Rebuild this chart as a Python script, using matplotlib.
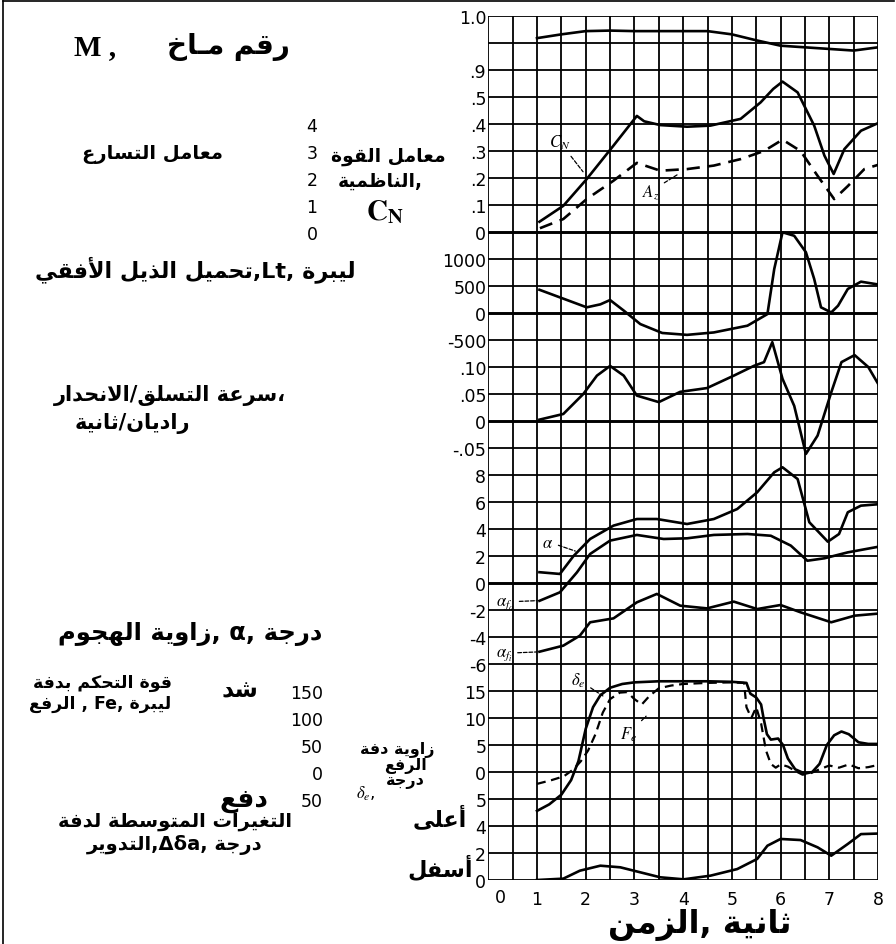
import re
import numpy as np
import matplotlib
matplotlib.use('Agg')
import matplotlib.pyplot as plt
from matplotlib.lines import Line2D

# ---------------- data ----------------
t_mach = [1.0, 1.5, 2.0, 2.5, 3.0, 3.5, 4.0, 4.5, 5.0, 5.5, 6.0, 6.5, 7.0, 7.5, 8.0]
mach = [0.959, 0.966, 0.972, 0.973, 0.972, 0.972, 0.972, 0.972, 0.966, 0.955, 0.945, 0.942, 0.939, 0.936, 0.942]

t_cn = [1.05, 1.54, 2.02, 2.57, 3.05, 3.2, 3.53, 4.08, 4.56, 5.18, 5.59, 5.85, 6.04, 6.35, 6.69, 6.9, 7.09, 7.31, 7.65, 8.06]
cn = [0.038, 0.097, 0.196, 0.32, 0.43, 0.41, 0.396, 0.39, 0.394, 0.419, 0.48, 0.53, 0.557, 0.517, 0.394, 0.283, 0.215, 0.307, 0.375, 0.408]

t_az = [1.06, 1.54, 2.02, 2.57, 3.05, 3.53, 4.08, 4.63, 5.18, 5.66, 6.04, 6.41, 6.76, 7.1, 7.38, 7.72, 8.06]
az = [0.14, 0.48, 1.22, 1.9, 2.56, 2.27, 2.33, 2.46, 2.7, 3.0, 3.42, 3.0, 2.08, 1.22, 1.7, 2.33, 2.52]

t_lt = [1.05, 2.02, 2.3, 2.5, 2.78, 3.12, 3.57, 4.08, 4.63, 5.32, 5.73, 5.87, 6.04, 6.28, 6.52, 6.69, 6.83, 7.04, 7.18, 7.38, 7.65, 8.06]
lt = [430, 105, 160, 240, 45, -205, -370, -405, -360, -235, -20, 815, 1495, 1430, 1125, 630, 105, 10, 135, 445, 580, 520]

t_q = [1.05, 1.54, 1.95, 2.23, 2.5, 2.78, 3.05, 3.5, 3.94, 4.49, 5.04, 5.45, 5.66, 5.83, 6.04, 6.28, 6.52, 6.76, 7.04, 7.25, 7.52, 7.8, 8.06]
q = [0.0025, 0.013, 0.05, 0.084, 0.102, 0.084, 0.047, 0.035, 0.054, 0.061, 0.084, 0.102, 0.109, 0.146, 0.078, 0.028, -0.061, -0.027, 0.053, 0.109, 0.122, 0.10, 0.06]

t_alpha = [1.05, 1.47, 1.75, 2.09, 2.57, 3.05, 3.46, 4.08, 4.63, 5.11, 5.52, 5.87, 6.04, 6.35, 6.59, 6.97, 7.2, 7.38, 7.65, 8.06]
alpha = [0.8, 0.67, 2.0, 3.26, 4.25, 4.74, 4.74, 4.37, 4.74, 5.48, 6.72, 8.2, 8.57, 7.7, 4.5, 3.06, 3.63, 5.24, 5.73, 5.85]

t_afo = [1.05, 1.47, 1.82, 2.09, 2.5, 3.05, 3.6, 4.08, 4.63, 5.32, 5.8, 6.21, 6.55, 6.9, 7.38, 8.06]
alpha_fo = [-1.32, -0.69, 0.79, 2.15, 3.14, 3.56, 3.26, 3.31, 3.56, 3.63, 3.5, 2.77, 1.65, 1.83, 2.27, 2.72]

t_afi = [1.05, 1.54, 1.88, 2.09, 2.57, 3.05, 3.46, 3.94, 4.49, 5.04, 5.52, 6.0, 6.41, 7.04, 7.52, 8.06]
alpha_fi = [-5.09, -4.64, -3.9, -2.91, -2.62, -1.43, -0.81, -1.68, -1.88, -1.38, -1.93, -1.63, -2.17, -2.91, -2.42, -2.25]

t_de = [1.0, 1.25, 1.5, 1.7, 1.85, 2.0, 2.15, 2.3, 2.5, 2.75, 3.0, 3.5, 4.0, 4.5, 5.0, 5.3, 5.38, 5.5, 5.6, 5.65, 5.72, 5.8, 5.95, 6.05, 6.15, 6.3, 6.5, 6.65, 6.8, 6.95, 7.1, 7.25, 7.4, 7.6, 7.8, 8.0]
delta_e = [-7.2, -6.0, -4.2, -1.5, 2.0, 8.0, 12.0, 14.2, 15.6, 16.3, 16.6, 16.8, 16.8, 16.8, 16.7, 16.5, 14.5, 13.8, 12.5, 10.0, 7.0, 6.0, 6.2, 5.0, 2.5, 0.5, -0.3, 0.0, 1.5, 5.0, 6.8, 7.5, 7.0, 5.5, 5.2, 5.2]

t_fe = [1.0, 1.3, 1.55, 1.75, 1.9, 2.05, 2.2, 2.35, 2.5, 2.7, 2.85, 3.0, 3.15, 3.3, 3.5, 3.75, 4.0, 4.5, 5.0, 5.25, 5.3, 5.4, 5.5, 5.6, 5.7, 5.8, 5.9, 6.0, 6.15, 6.3, 6.45, 6.6, 6.8, 7.0, 7.2, 7.4, 7.6, 7.8, 8.0]
fe = [-22, -15, -8, 5, 20, 40, 70, 110, 135, 147, 148, 135, 125, 140, 155, 160, 163, 165, 166, 165, 120, 100, 120, 90, 40, 15, 8, 14, 10, 2, -5, -3, 5, 12, 8, 14, 7, 9, 13]

t_da = [1.0, 1.54, 1.88, 2.3, 2.71, 3.12, 3.53, 4.01, 4.56, 5.11, 5.52, 5.73, 6.0, 6.41, 6.76, 7.04, 7.38, 7.65, 8.0]
delta_a = [0.0, 0.1, 0.69, 1.06, 0.94, 0.57, 0.2, 0.05, 0.32, 0.81, 1.56, 2.54, 3.04, 2.96, 2.42, 1.8, 2.67, 3.4, 3.44]

time_ticks = [0, 1, 2, 3, 4, 5, 6, 7, 8]
mach_ticks, mach_labels = [1.0, 0.9], ['1.0', '.9']
cn_ticks, cn_labels = [0.5, 0.4, 0.3, 0.2, 0.1, 0.0], ['.5', '.4', '.3', '.2', '.1', '0']
az_ticks, az_labels = [4, 3, 2, 1, 0], ['4', '3', '2', '1', '0']
lt_ticks, lt_labels = [1000, 500, 0, -500], ['1000', '500', '0', '-500']
q_ticks, q_labels = [0.10, 0.05, 0.0, -0.05], ['.10', '.05', '0', '-.05']
al_ticks, al_labels = [8, 6, 4, 2, 0, -2, -4, -6], ['8', '6', '4', '2', '0', '-2', '-4', '-6']
de_ticks, de_labels = [15, 10, 5, 0, -5], ['15', '10', '5', '0', '5']
fe_ticks, fe_labels = [150, 100, 50, 0, -50], ['150', '100', '50', '0', '50']
da_ticks, da_labels = [4, 2, 0], ['4', '2', '0']

# ---------------- Arabic shaping helper ----------------
DUAL, RIGHT = 'D', 'R'
AR_FORMS = {
    '\u0623': (0xFE83, RIGHT), '\u0627': (0xFE8D, RIGHT), '\u0628': (0xFE8F, DUAL),
    '\u0629': (0xFE93, RIGHT), '\u062A': (0xFE95, DUAL), '\u062B': (0xFE99, DUAL),
    '\u062C': (0xFE9D, DUAL), '\u062D': (0xFEA1, DUAL), '\u062E': (0xFEA5, DUAL),
    '\u062F': (0xFEA9, RIGHT), '\u0630': (0xFEAB, RIGHT), '\u0631': (0xFEAD, RIGHT),
    '\u0632': (0xFEAF, RIGHT), '\u0633': (0xFEB1, DUAL), '\u0634': (0xFEB5, DUAL),
    '\u0635': (0xFEB9, DUAL), '\u0636': (0xFEBD, DUAL), '\u0637': (0xFEC1, DUAL),
    '\u0638': (0xFEC5, DUAL), '\u0639': (0xFEC9, DUAL), '\u063A': (0xFECD, DUAL),
    '\u0641': (0xFED1, DUAL), '\u0642': (0xFED5, DUAL), '\u0643': (0xFED9, DUAL),
    '\u0644': (0xFEDD, DUAL), '\u0645': (0xFEE1, DUAL), '\u0646': (0xFEE5, DUAL),
    '\u0647': (0xFEE9, DUAL), '\u0648': (0xFEED, RIGHT), '\u0649': (0xFEEF, RIGHT),
    '\u064A': (0xFEF1, DUAL),
}
LAMALEF = {'\u0627': 0xFEFB, '\u0623': 0xFEF7, '\u0625': 0xFEF9, '\u0622': 0xFEF5}


def _jt(item):
    c, a = item
    if c == 'LA':
        return RIGHT
    if c == '\u0640':
        return DUAL
    return AR_FORMS.get(c, (None, None))[1]


def shape_run(word):
    items, i = [], 0
    while i < len(word):
        if word[i] == '\u0644' and i + 1 < len(word) and word[i + 1] in LAMALEF:
            items.append(('LA', word[i + 1]))
            i += 2
        else:
            items.append((word[i], None))
            i += 1
    out = []
    for k, it in enumerate(items):
        t = _jt(it)
        prv = _jt(items[k - 1]) if k > 0 else None
        nxt = _jt(items[k + 1]) if k + 1 < len(items) else None
        jp = t in (DUAL, RIGHT) and prv == DUAL
        jn = t == DUAL and nxt in (DUAL, RIGHT)
        c, a = it
        if c == 'LA':
            out.append(chr(LAMALEF[a] + (1 if jp else 0)))
        elif c == '\u0640' or t is None:
            out.append(c)
        elif t == RIGHT:
            out.append(chr(AR_FORMS[c][0] + (1 if jp else 0)))
        else:
            idx = {(False, False): 0, (True, False): 1, (False, True): 2, (True, True): 3}[(jp, jn)]
            out.append(chr(AR_FORMS[c][0] + idx))
    return ''.join(out)


AR_RUN = re.compile(r'[\u0621-\u064A\u0640]+(?:[ /]+[\u0621-\u064A\u0640]+)*')


def ar(s):
    """Visual order for Arabic runs inside a left-to-right line (simple bidi)."""
    return AR_RUN.sub(lambda m: shape_run(m.group(0))[::-1], s)


# ---------------- figure ----------------
W, H = 896, 945
fig = plt.figure(figsize=(W / 100, H / 100), dpi=100)
plt.rcParams['font.family'] = ['DejaVu Sans']
plt.rcParams['mathtext.fontset'] = 'stix'

X0, X1, Y0, Y1 = 488.3, 878.0, 881.0, 17.0   # pixel frame of the strip chart
RECT = [X0 / W, 1 - Y0 / H, (X1 - X0) / W, (Y0 - Y1) / H]
NU = 32

grid = fig.add_axes(RECT, label='grid')
grid.set_xlim(0, 8)
grid.set_ylim(0, NU)
for s in grid.spines.values():
    s.set_visible(False)
grid.set_yticks([])
for xv in np.arange(0, 8.01, 0.5):
    grid.axvline(xv, color='black', lw=1.3, zorder=1)
thick_rows = {24, 21, 17, 11}
for u in range(NU + 1):
    grid.axhline(u, color='black', lw=2.1 if u in thick_rows else 1.3, zorder=1)
grid.set_xticks(time_ticks[1:], [str(v) for v in time_ticks[1:]])
grid.tick_params(axis='x', length=0, pad=7, labelsize=12.5)


def panel(name, u0, v0, step):
    ax = fig.add_axes(RECT, label=name)
    ax.set_xlim(0, 8)
    ax.set_ylim(v0 - u0 * step, v0 + (NU - u0) * step)
    ax.patch.set_visible(False)
    for s in ax.spines.values():
        s.set_visible(False)
    ax.set_xticks([])
    ax.set_yticks([])
    ax.tick_params(axis='y', length=0, pad=1.5, labelsize=12.5)
    return ax


LW = 1.9
ax_m = panel('mach', 30, 0.9, 0.05)
ax_m.plot(t_mach, mach, color='black', lw=LW)
ax_m.set_yticks(mach_ticks, mach_labels)

ax_cn = panel('cn', 24, 0.0, 0.1)
ax_cn.plot(t_cn, cn, color='black', lw=LW)
ax_cn.set_yticks(cn_ticks, cn_labels)

ax_az = panel('az', 24, 0.0, 1.0)
ax_az.plot(t_az, az, color='black', lw=LW, dashes=(5, 3))
ax_az.set_yticks(az_ticks, az_labels)
ax_az.tick_params(axis='y', pad=127)
for lab in ax_az.get_yticklabels():
    lab.set_horizontalalignment('center')

ax_lt = panel('lt', 21, 0.0, 500.0)
ax_lt.plot(t_lt, lt, color='black', lw=LW)
ax_lt.set_yticks(lt_ticks, lt_labels)

ax_q = panel('q', 17, 0.0, 0.05)
ax_q.plot(t_q, q, color='black', lw=LW)
ax_q.set_yticks(q_ticks, q_labels)

ax_al = panel('alpha', 11, 0.0, 2.0)
ax_al.plot(t_alpha, alpha, color='black', lw=LW)
ax_al.plot(t_afo, alpha_fo, color='black', lw=LW)
ax_al.plot(t_afi, alpha_fi, color='black', lw=LW)
ax_al.set_yticks(al_ticks, al_labels)

ax_de = panel('de', 4, 0.0, 5.0)
ax_de.plot(t_de, delta_e, color='black', lw=LW)
ax_de.set_yticks(de_ticks, de_labels)

ax_fe = panel('fe', 4, 0.0, 50.0)
ax_fe.plot(t_fe, fe, color='black', lw=1.6, dashes=(4, 2.5))
ax_fe.set_yticks(fe_ticks, fe_labels)
ax_fe.tick_params(axis='y', pad=119)

ax_da = panel('da', 0, 0.0, 2.0)
ax_da.plot(t_da, delta_a, color='black', lw=LW)
ax_da.set_yticks(da_ticks, da_labels)

# curve tags with small leaders
lead = dict(arrowstyle='-', color='black', lw=0.9, linestyle=(0, (3, 1.5)))
ax_cn.annotate(r'$C_N$', xy=(1.98, 0.215), xytext=(1.25, 0.315), fontsize=12, arrowprops=lead)
ax_az.annotate(r'$A_z$', xy=(3.95, 2.2), xytext=(3.15, 1.35), fontsize=12, arrowprops=lead)
ax_al.annotate(r'$\alpha$', xy=(1.84, 2.3), xytext=(1.1, 2.7), fontsize=12, arrowprops=lead)
ax_al.annotate(r'$\alpha_{f_o}$', xy=(1.05, -1.3), xytext=(0.15, -1.6), fontsize=12, arrowprops=lead)
ax_al.annotate(r'$\alpha_{f_i}$', xy=(1.05, -5.1), xytext=(0.15, -5.4), fontsize=12, arrowprops=lead)
ax_de.annotate(r'$\delta_e$', xy=(2.4, 13.8), xytext=(1.7, 16.2), fontsize=12, arrowprops=lead)
ax_fe.annotate(r'$F_e$', xy=(3.28, 107), xytext=(2.7, 62), fontsize=12, arrowprops=lead)


def ftext(x, y, s, **kw):
    kw.setdefault('ha', 'center')
    kw.setdefault('va', 'center')
    fig.text(x / W, 1 - y / H, s, **kw)


B = dict(fontweight='bold', family=['DejaVu Sans'])
ftext(500, 898, '0', fontsize=12.5)

ftext(95, 48, 'M ,', fontsize=21, fontweight='bold', family=['Liberation Serif'])
ftext(228, 47, ar('رقم مـاخ'), fontsize=20, **B)
ftext(152, 155, ar('معامل التسارع'), fontsize=14, **B)
ftext(388, 156, ar('معامل القوة'), fontsize=13.5, **B)
ftext(380, 181, ar('الناظمية,'), fontsize=13.5, **B)
ftext(385, 212, r'$\mathbf{C}_{\mathbf{N}}$', fontsize=21)
ftext(195, 270, ar('تحميل الذيل الأفقي,Lt, ليبرة'), fontsize=16, **B)
ftext(170, 396, ar('سرعة التسلق/الانحدار،'), fontsize=15, **B)
ftext(132, 424, ar('راديان/ثانية'), fontsize=15, **B)
ftext(190, 634, ar('زاوية الهجوم, α, درجة'), fontsize=17.5, **B)
ftext(102, 683, ar('قوة التحكم بدفة'), fontsize=12.5, **B)
ftext(100, 704, ar('الرفع , Fe, ليبرة'), fontsize=12.5, **B)
ftext(240, 690, ar('شد'), fontsize=17, **B)
ftext(244, 800, ar('دفع'), fontsize=19, **B)
ftext(397, 750, ar('زاوية دفة'), fontsize=11.5, **B)
ftext(405, 766, ar('الرفع'), fontsize=11.5, **B)
ftext(405, 782, ar('درجة'), fontsize=11.5, **B)
ftext(366, 794, r'$\delta_e$,', fontsize=12)
ftext(440, 818, ar('أعلى'), fontsize=16, **B)
ftext(440, 868, ar('أسفل'), fontsize=16, **B)
ftext(175, 822, ar('التغيرات المتوسطة لدفة'), fontsize=14, **B)
ftext(175, 845, ar('التدوير,Δδa, درجة'), fontsize=14, **B)
ftext(700, 925, ar('الزمن, ثانية'), fontsize=23, **B)

# frame around the whole picture
fig.add_artist(Line2D([3 / W, 3 / W], [0, 1 - 2 / H], transform=fig.transFigure, color='black', lw=1.2))
fig.add_artist(Line2D([3 / W, 894 / W], [1 - 2 / H, 1 - 2 / H], transform=fig.transFigure, color='black', lw=1.2))

fig.savefig('out.png', dpi=100)
